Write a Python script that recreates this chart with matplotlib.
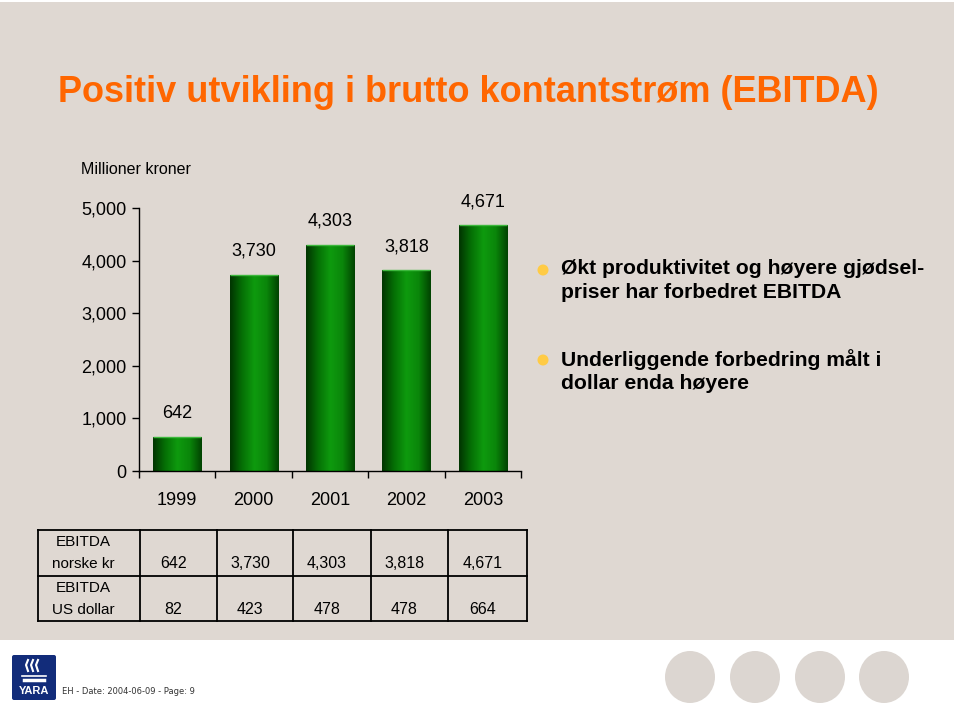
import numpy as np
import matplotlib
matplotlib.use("Agg")
import matplotlib.pyplot as plt
from matplotlib import font_manager
from matplotlib.colors import LinearSegmentedColormap
from matplotlib.patches import Rectangle, Ellipse, FancyBboxPatch

# data
years = ['1999', '2000', '2001', '2002', '2003']
ebitda_nok = [642, 3730, 4303, 3818, 4671]
ebitda_usd = [82, 423, 478, 478, 664]
yticks = [0, 1000, 2000, 3000, 4000, 5000]
row_labels = ['EBITDA\nnorske kr', 'EBITDA\nUS dollar']
bullets = ['Økt produktivitet og høyere gjødsel-\npriser har forbedret EBITDA',
           'Underliggende forbedring målt i\ndollar enda høyere']
title = 'Positiv utvikling i brutto kontantstrøm (EBITDA)'

names = set(f.name for f in font_manager.fontManager.ttflist)
narrow = 'Liberation Sans Narrow' if 'Liberation Sans Narrow' in names else None
plt.rcParams['font.family'] = ['Liberation Sans', 'DejaVu Sans']

W, H = 960, 717
beige = '#DFD8D2'
fig = plt.figure(figsize=(W/100, H/100), dpi=100)
fig.patch.set_facecolor('white')

# background layer in pixel coords
bg = fig.add_axes([0, 0, 1, 1], zorder=0)
bg.set_xlim(0, W)
bg.set_ylim(H, 0)
bg.axis('off')
bg.add_patch(Rectangle((0, 2), 954, 638, color=beige, lw=0))

if narrow:
    bg.text(58, 93, title, fontsize=28, fontweight='bold', color='#FF6600',
            family=narrow, va='center', ha='left')
else:
    bg.text(58, 93, title, fontsize=26, fontweight='bold', color='#FF6600',
            va='center', ha='left')
bg.text(81, 170, 'Millioner kroner', fontsize=11.5, va='center', ha='left')

# bullets
for i, txt in enumerate(bullets):
    y0 = 270 + i*90
    bg.add_patch(Ellipse((543, y0), 11, 11, color='#FFCB45', lw=0))
    bg.text(561, y0 - 11, txt, fontsize=15.2, fontweight='bold', va='top', ha='left',
            linespacing=1.3)

# table
col_edges = [38, 140, 217, 293, 371, 448, 527]
row_edges = [530, 576, 621]
for x in col_edges:
    bg.plot([x, x], [row_edges[0], row_edges[-1]], color='black', lw=1.3)
for y in row_edges:
    bg.plot([col_edges[0], col_edges[-1]], [y, y], color='black', lw=1.3)
for r, (lab, vals) in enumerate(zip(row_labels, [ebitda_nok, ebitda_usd])):
    top = row_edges[r]
    l1, l2 = lab.split('\n')
    bg.text(83, top + 12, l1, fontsize=11, ha='center', va='center')
    bg.text(83, top + 34, l2, fontsize=11, ha='center', va='center')
    for c, v in enumerate(vals):
        xc = (col_edges[c+1] + col_edges[c+2]) / 2 - 5
        bg.text(xc, top + 34, f'{v:,}', fontsize=11.5, ha='center', va='center')

# footer
bg.add_patch(FancyBboxPatch((12, 655), 44, 45, boxstyle='round,pad=0,rounding_size=2',
                            color='#122C7A', lw=0))
bg.text(34, 691, 'YARA', color='white', fontsize=8, fontweight='bold', ha='center', va='center')
for k in range(3):
    bg.plot([28 + k*5, 26 + k*5, 28 + k*5], [660, 665, 671], color='white', lw=1.5)
bg.plot([22, 46], [676, 676], color='white', lw=1.2)
bg.plot([24, 44], [680, 680], color='white', lw=2.5)
bg.text(62, 691, 'EH - Date: 2004-06-09 - Page: 9', fontsize=6, color='#333333',
        family='DejaVu Sans', va='center', ha='left')
for cx in [690, 755, 820, 884]:
    bg.add_patch(Ellipse((cx, 677), 50, 52, color='#DCD6D1', lw=0))

# chart
ax_l, ax_r, ax_t, ax_b = 139, 521, 208, 471
ax = fig.add_axes([ax_l/W, 1 - ax_b/H, (ax_r-ax_l)/W, (ax_b-ax_t)/H], zorder=1)
ax.set_facecolor('none')
x = np.arange(len(years))
bars = ax.bar(x, ebitda_nok, width=0.63, color='#0A7A0A', edgecolor='none')

cmap = LinearSegmentedColormap.from_list('cyl', ['#013401', '#057005', '#0E9A0E', '#0A860A', '#014201'])
grad = np.linspace(0, 1, 256).reshape(1, -1)
for b in bars:
    im = ax.imshow(grad, extent=[b.get_x(), b.get_x() + b.get_width(), 0, b.get_height()],
                   aspect='auto', cmap=cmap, zorder=2)
    im.set_clip_path(b)
    ax.plot([b.get_x(), b.get_x() + b.get_width()], [b.get_height()]*2,
            color='#3DB83D', lw=1, zorder=3, solid_capstyle='butt')

for xi, v in zip(x, ebitda_nok):
    ax.annotate(f'{v:,}', (xi, v), xytext=(0, 17), textcoords='offset points',
                ha='center', va='center', fontsize=13, annotation_clip=False)

ax.set_xlim(-0.5, len(years) - 0.5)
ax.set_ylim(0, 5000)
ax.set_yticks(yticks)
ax.set_yticklabels([f'{t:,}' for t in yticks], fontsize=13)
ax.set_xticks(x)
ax.set_xticklabels(years, fontsize=13)
ax.set_xticks(np.arange(len(years) + 1) - 0.5, minor=True)
ax.tick_params(axis='x', which='major', length=0, pad=15)
ax.tick_params(axis='x', which='minor', length=5, width=1, direction='out')
ax.tick_params(axis='y', length=5, width=1, direction='out', pad=4)
for s in ['top', 'right']:
    ax.spines[s].set_visible(False)
ax.spines['left'].set_linewidth(1)
ax.spines['bottom'].set_linewidth(1)

fig.savefig('out.png', dpi=100, facecolor=fig.get_facecolor())
